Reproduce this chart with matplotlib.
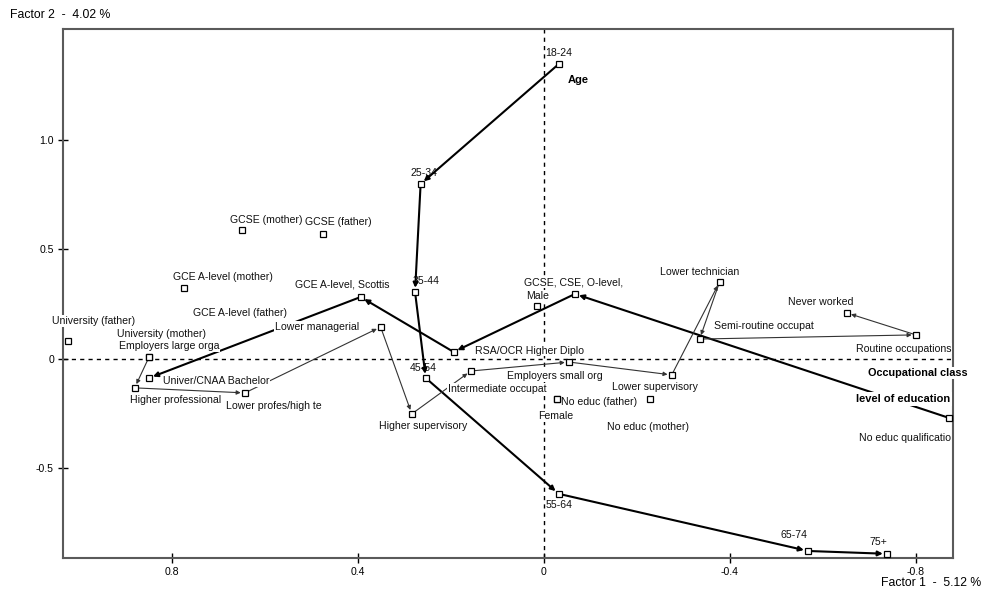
import numpy as np
import matplotlib
matplotlib.use("Agg")
from matplotlib import pyplot as plt

plt.rcParams['font.family'] = ['Liberation Sans', 'DejaVu Sans']

# coordinates of the categories (Factor 1, Factor 2)
age_names = ['18-24', '25-34', '35-44', '45-54', '55-64', '65-74', '75+']
age_x = [-0.032, 0.265, 0.277, 0.254, -0.032, -0.568, -0.738]
age_y = [1.347, 0.799, 0.306, -0.087, -0.616, -0.877, -0.890]

edu_names = ['No educ qualificatio', 'GCSE, CSE, O-level,', 'RSA/OCR Higher Diplo',
             'GCE A-level, Scottis', 'Univer/CNAA Bachelor']
edu_x = [-0.871, -0.067, 0.194, 0.394, 0.849]
edu_y = [-0.269, 0.297, 0.032, 0.283, -0.087]

occ_names = ['Employers large orga', 'Higher professional', 'Lower profes/high te',
             'Lower managerial', 'Higher supervisory', 'Intermediate occupat',
             'Employers small org', 'Lower supervisory', 'Lower technician',
             'Semi-routine occupat', 'Routine occupations', 'Never worked']
occ_x = [0.849, 0.880, 0.643, 0.351, 0.284, 0.157, -0.054, -0.275, -0.378, -0.335, -0.800, -0.652]
occ_y = [0.009, -0.132, -0.155, 0.146, -0.251, -0.055, -0.014, -0.073, 0.352, 0.091, 0.110, 0.210]

other_names = ['University (father)', 'University (mother)', 'GCSE (mother)', 'GCSE (father)',
               'GCE A-level (mother)', 'GCE A-level (father)', 'Male', 'Female',
               'No educ (father)', 'No educ (mother)']
other_x = [1.024, 0.849, 0.649, 0.475, 0.774, 0.729, 0.015, -0.028, -0.028, -0.228]
other_y = [0.082, 0.009, 0.589, 0.571, 0.324, 0.155, 0.242, -0.183, -0.183, -0.183]

x_ticks = [0.8, 0.4, 0, -0.4, -0.8]
x_ticklabels = ['0.8', '0.4', '0', '-0.4', '-0.8']
y_ticks = [1.0, 0.5, 0, -0.5]
y_ticklabels = ['1.0', '0.5', '0', '-0.5']

# label placement (pixel offsets of the left edge / middle of the label)
offsets = {
    '18-24': (-14, 11), '25-34': (-10, 11), '35-44': (-2, 11), '45-54': (-16, 10),
    '55-64': (-13, -11), '65-74': (-27, 16), '75+': (-18, 12),
    'Univer/CNAA Bachelor': (14, -3), 'GCE A-level, Scottis': (-66, 13),
    'RSA/OCR Higher Diplo': (21, 1), 'GCSE, CSE, O-level,': (-51, 11),
    'No educ qualificatio': (-90, -20),
    'Employers large orga': (-30, 11), 'Higher professional': (-5, -12),
    'Lower profes/high te': (-19, -13), 'Lower managerial': (-106, 0),
    'Higher supervisory': (-33, -12), 'Intermediate occupat': (-23, -18),
    'Employers small org': (-62, -14), 'Lower supervisory': (-60, -12),
    'Lower technician': (-60, 10), 'Semi-routine occupat': (14, 13),
    'Routine occupations': (-60, -14), 'Never worked': (-59, 11),
    'University (father)': (-16, 20), 'University (mother)': (-32, 23),
    'GCSE (mother)': (-12, 10), 'GCSE (father)': (-18, 12),
    'GCE A-level (mother)': (-11, 11), 'GCE A-level (father)': (-12, 12),
    'Male': (-11, 10), 'Female': (-19, -17), 'No educ (father)': (4, -3),
    'No educ (mother)': (-43, -28),
}
no_marker = ['GCE A-level (father)']

fig = plt.figure(figsize=(9.82, 5.96), dpi=100)
ax = fig.add_axes([0.0642, 0.0638, 0.9063, 0.8875])
ax.set_xlim(1.034, -0.88)
ax.set_ylim(-0.909, 1.507)

ax.axhline(0, color='black', lw=1, ls=(0, (3, 3)), zorder=1)
ax.axvline(0, color='black', lw=1, ls=(0, (3, 3)), zorder=1)


def chain(xs, ys, lw, color, ms):
    for i in range(len(xs) - 1):
        ax.annotate('', xy=(xs[i + 1], ys[i + 1]), xytext=(xs[i], ys[i]),
                    arrowprops=dict(arrowstyle='-|>', lw=lw, color=color,
                                    shrinkA=0, shrinkB=3, mutation_scale=ms),
                    zorder=3)


chain(age_x, age_y, 1.5, 'black', 7)
chain(edu_x, edu_y, 1.5, 'black', 7)
chain(occ_x, occ_y, 0.8, '#333333', 6)

all_names = age_names + edu_names + occ_names + other_names
all_x = age_x + edu_x + occ_x + other_x
all_y = age_y + edu_y + occ_y + other_y

for n, x, y in zip(all_names, all_x, all_y):
    if n not in no_marker:
        ax.plot(x, y, 's', ms=4.6, mfc='white', mec='black', mew=0.9, zorder=6)
    dx, dy = offsets[n]
    if n in age_names:
        # the age line runs over its labels
        ax.annotate(n, (x, y), xytext=(dx, dy), textcoords='offset pixels',
                    ha='left', va='center', fontsize=7.6, color='#111111', zorder=2)
    else:
        ax.annotate(n, (x, y), xytext=(dx, dy), textcoords='offset pixels',
                    ha='left', va='center', fontsize=7.6, color='#111111', zorder=5,
                    bbox=dict(boxstyle='square,pad=0.05', fc='white', ec='none'),
                    annotation_clip=False)

# group titles
ax.text(-0.052, 1.274, 'Age', fontsize=8, fontweight='bold', ha='left', va='center', zorder=5)
ax.text(-0.697, -0.064, 'Occupational class', fontsize=7.8, fontweight='bold', ha='left',
        va='center', zorder=5, bbox=dict(boxstyle='square,pad=0.1', fc='white', ec='none'),
        clip_on=False)
ax.text(-0.671, -0.183, 'level of education', fontsize=8, fontweight='bold', ha='left',
        va='center', zorder=5, bbox=dict(boxstyle='square,pad=0.15', fc='white', ec='none'),
        clip_on=False)

for s in ax.spines.values():
    s.set_color('#5a5a5a')
    s.set_linewidth(1.5)
    s.set_zorder(2)

ax.set_xticks(x_ticks)
ax.set_xticklabels(x_ticklabels)
ax.set_yticks(y_ticks)
ax.set_yticklabels(y_ticklabels)
ax.tick_params(direction='inout', length=7, width=1, labelsize=7.6, pad=3)

fig.text(0.0102, 0.975, 'Factor 2  -  4.02 %', fontsize=8.8, va='center', ha='left')
fig.text(0.999, 0.021, 'Factor 1  -  5.12 %', fontsize=8.8, va='center', ha='right')

fig.savefig('out.png', dpi=100)
